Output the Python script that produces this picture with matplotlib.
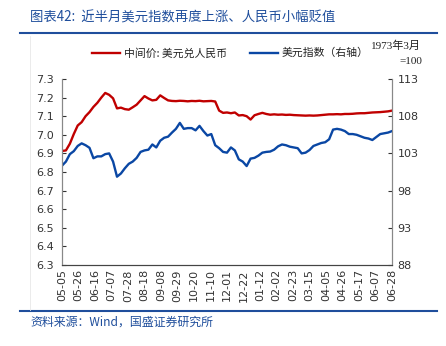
import matplotlib
matplotlib.use("Agg")
import matplotlib.pyplot as plt
import matplotlib.dates as mdates
import pandas as pd

plt.rcParams['font.family'] = ['Noto Sans CJK SC', 'DejaVu Sans']

# 5-day samples, 2023-05-05 .. 2024-06-28
dates = pd.date_range("2023-05-05", "2024-06-28", freq="5D")

usdcny = [6.913, 6.916, 6.952, 7.004, 7.050, 7.068, 7.100, 7.122, 7.150, 7.172,
          7.200, 7.225, 7.215, 7.196, 7.142, 7.146, 7.138, 7.135, 7.148, 7.162,
          7.185, 7.208, 7.195, 7.185, 7.188, 7.212, 7.198, 7.185, 7.182, 7.181,
          7.183, 7.182, 7.180, 7.182, 7.181, 7.183, 7.180, 7.181, 7.182, 7.179,
          7.130, 7.118, 7.120, 7.116, 7.120, 7.104, 7.106, 7.100, 7.082, 7.105,
          7.112, 7.118, 7.112, 7.108, 7.110, 7.108, 7.109, 7.107, 7.108, 7.106,
          7.105, 7.104, 7.103, 7.104, 7.103, 7.104, 7.106, 7.108, 7.110, 7.110,
          7.111, 7.110, 7.112, 7.112, 7.113, 7.115, 7.116, 7.116, 7.118, 7.120,
          7.121, 7.122, 7.124, 7.126, 7.130]

dxy = [101.35, 101.90, 102.90, 103.30, 104.00, 104.35, 104.10, 103.75, 102.35, 102.60,
       102.60, 102.90, 103.00, 101.90, 99.87, 100.30, 101.00, 101.60, 101.90, 102.40,
       103.20, 103.40, 103.50, 104.20, 103.80, 104.70, 105.10, 105.25, 105.80, 106.30,
       107.10, 106.30, 106.40, 106.40, 106.10, 106.70, 106.00, 105.40, 105.60, 104.10,
       103.70, 103.20, 103.10, 103.80, 103.40, 102.20, 101.90, 101.30, 102.30, 102.40,
       102.70, 103.10, 103.20, 103.25, 103.50, 103.95, 104.20, 104.10, 103.90, 103.80,
       103.70, 103.00, 103.10, 103.45, 104.00, 104.20, 104.40, 104.50, 104.90, 106.20,
       106.30, 106.20, 106.00, 105.60, 105.60, 105.50, 105.30, 105.10, 105.00, 104.80,
       105.20, 105.60, 105.70, 105.80, 106.00]

tick_dates = pd.date_range("2023-05-05", "2024-06-28", freq="21D")
left_ticks = [6.3, 6.4, 6.5, 6.6, 6.7, 6.8, 6.9, 7.0, 7.1, 7.2, 7.3]
right_ticks = [88, 93, 98, 103, 108, 113]

red = '#c00000'
blue = '#0a47a4'
head_blue = '#1f4e9c'

fig = plt.figure(figsize=(4.46, 3.46), dpi=100)
ax = fig.add_axes([62/446, 1-265/346, 330/446, 186/346])
ax2 = ax.twinx()

ax.plot(dates, usdcny, color=red, lw=1.7)
ax2.plot(dates, dxy, color=blue, lw=1.7)

ax.set_xlim(dates[0], dates[-1])
ax.set_ylim(6.3, 7.3)
ax2.set_ylim(88, 113)
ax.set_yticks(left_ticks)
ax.set_yticklabels([f"{v:.1f}" for v in left_ticks], family='DejaVu Sans')
ax2.set_yticks(right_ticks)
ax2.set_yticklabels([str(v) for v in right_ticks], family='DejaVu Sans')
ax.set_xticks(tick_dates)
ax.xaxis.set_major_formatter(mdates.DateFormatter('%m-%d'))
for lab in ax.get_xticklabels():
    lab.set_family('DejaVu Sans')

ax.tick_params(axis='y', direction='in', length=3, labelsize=8, colors='#333333', pad=6)
ax2.tick_params(axis='y', direction='in', length=3, labelsize=8, colors='#333333', pad=4)
ax.tick_params(axis='x', length=0, labelsize=8, rotation=90, colors='#333333', pad=3)

for a in (ax, ax2):
    a.spines['top'].set_visible(False)
    a.spines['left'].set_color('#888888')
    a.spines['right'].set_color('#888888')
    a.spines['bottom'].set_color('#444444')
    a.patch.set_visible(False)

# heading, rules and source
fig.text(30/446, 1-18/346, "图表42:  近半月美元指数再度上涨、人民币小幅贬值",
         color=head_blue, fontsize=9.6, va='center', ha='left')
fig.add_artist(plt.Line2D([20/446, 437/446], [1-33/346, 1-33/346], color=head_blue, lw=1.5))
fig.add_artist(plt.Line2D([20/446, 437/446], [1-311/346, 1-311/346], color=head_blue, lw=1.5))
fig.add_artist(plt.Line2D([30/446, 30/446], [1-36/346, 1-310/346], color='#e8e8e8', lw=0.6))
fig.text(30/446, 1-322/346, "资料来源：Wind，国盛证券研究所",
         color=head_blue, fontsize=8.6, va='center', ha='left')

# legend
fig.add_artist(plt.Line2D([92/446, 120/446], [1-53/346, 1-53/346], color=red, lw=1.7))
fig.text(124/446, 1-53/346, "中间价: 美元兑人民币", fontsize=7.8, va='center', color='#222222')
fig.add_artist(plt.Line2D([250/446, 278/446], [1-53/346, 1-53/346], color=blue, lw=1.7))
fig.text(282/446, 1-53/346, "美元指数（右轴）", fontsize=7.8, va='center', color='#222222')
fig.text(421/446, 1-46/346, "1973年3月", fontsize=8, ha='right', va='center',
         family=['Liberation Serif', 'Noto Sans CJK SC'], color='#222222')
fig.text(422/446, 1-62/346, "=100", fontsize=8, ha='right', va='center',
         family=['Liberation Serif', 'Noto Sans CJK SC'], color='#222222')

fig.savefig("out.png", dpi=100)
